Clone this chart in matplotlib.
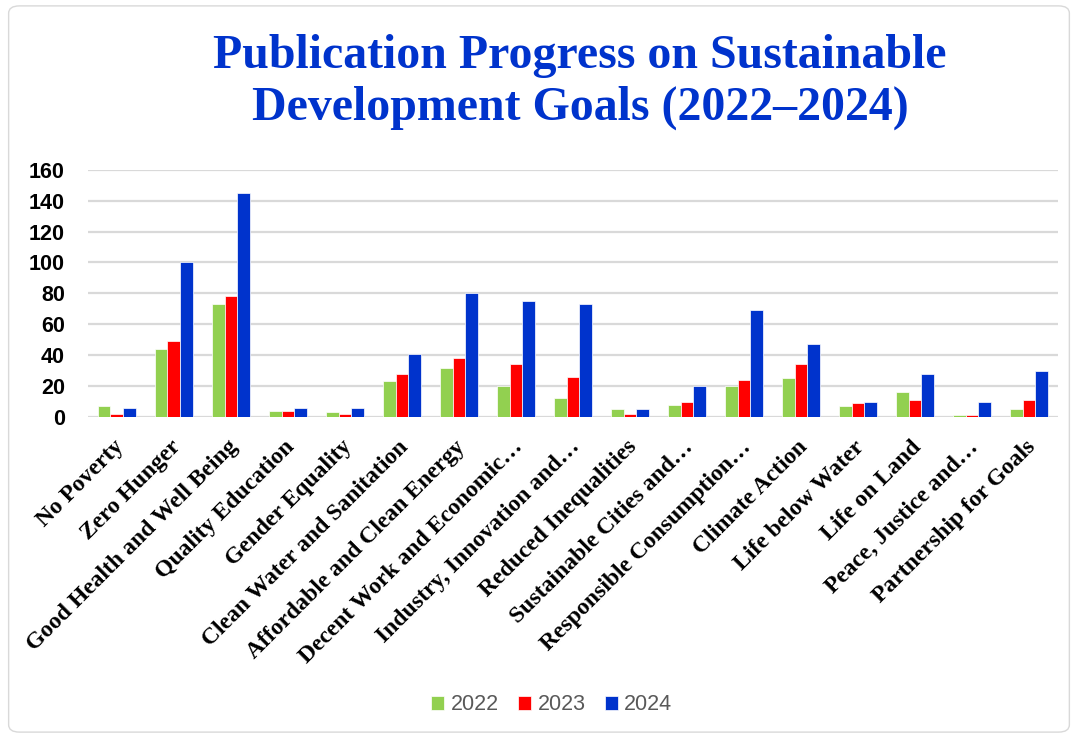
import matplotlib
matplotlib.use("Agg")
import matplotlib.pyplot as plt
from matplotlib.patches import FancyBboxPatch
import numpy as np

goals = [
    "No Poverty", "Zero Hunger", "Good Health and Well Being",
    "Quality Education", "Gender Equality", "Clean Water and Sanitation",
    "Affordable and Clean Energy", "Decent Work and Economic\u2026",
    "Industry, Innovation and\u2026", "Reduced Inequalities",
    "Sustainable Cities and\u2026", "Responsible Consumption\u2026",
    "Climate Action", "Life below Water", "Life on Land",
    "Peace, Justice and\u2026", "Partnership for Goals",
]
y2022 = [7, 44, 73, 4, 3, 23, 32, 20, 12, 5, 8, 20, 25, 7, 16, 1, 5]
y2023 = [2, 49, 78, 4, 2, 28, 38, 34, 26, 2, 10, 24, 34, 9, 11, 1, 11]
y2024 = [6, 100, 145, 6, 6, 41, 80, 75, 73, 5, 20, 69, 47, 10, 28, 10, 30]
years = ["2022", "2023", "2024"]
colors = ["#92D050", "#FF0000", "#0033CC"]
yticks = [0, 20, 40, 60, 80, 100, 120, 140, 160]

fig = plt.figure(figsize=(10.78, 7.38), dpi=100)
fig.patch.set_facecolor("white")

# outer chart frame
frame = FancyBboxPatch((0.008, 0.008), 0.984, 0.984,
                       boxstyle="round,pad=0,rounding_size=0.01",
                       transform=fig.transFigure, fill=False,
                       edgecolor="#D9D9D9", linewidth=1.0)
fig.patches.append(frame)

ax = fig.add_axes([0.082, 0.435, 0.899, 0.335])
x = np.arange(len(goals))
w = 0.225
for i, (vals, c, lab) in enumerate(zip([y2022, y2023, y2024], colors, years)):
    ax.bar(x + (i - 1) * w, vals, width=w, color=c, label=lab,
           edgecolor="white", linewidth=0.5, zorder=3)

ax.set_xlim(-0.5, len(goals) - 0.5)
ax.set_ylim(0, 160)
ax.set_yticks(yticks)
ax.set_yticklabels([str(t) for t in yticks], fontfamily="Liberation Sans",
                   fontweight="bold", fontsize=15.5)
ax.yaxis.grid(True, color="#D9D9D9", linewidth=1.6, zorder=0)
ax.set_axisbelow(True)
for s in ax.spines.values():
    s.set_visible(False)
ax.tick_params(axis="both", length=0)
ax.tick_params(axis="y", pad=17)

ax.set_xticks(x - 0.07)
ax.set_xticklabels(goals, rotation=45, ha="right", va="top",
                   rotation_mode="anchor", fontfamily="Liberation Serif",
                   fontweight="bold", fontsize=17)
ax.tick_params(axis="x", pad=14)

fig.text(0.538, 0.889, "Publication Progress on Sustainable\nDevelopment Goals (2022\u20132024)",
         ha="center", va="center", fontfamily="Liberation Serif",
         fontweight="bold", fontsize=34.5, color="#0033CC", linespacing=1.2)

leg = fig.legend(loc="center", bbox_to_anchor=(0.512, 0.045), ncol=3,
                 frameon=False, handlelength=0.6, handleheight=0.6,
                 handletextpad=0.3, columnspacing=0.9,
                 prop={"family": "Liberation Sans", "size": 15.5})
for t in leg.get_texts():
    t.set_color("#595959")

fig.savefig("out.png", dpi=100, facecolor="white")
